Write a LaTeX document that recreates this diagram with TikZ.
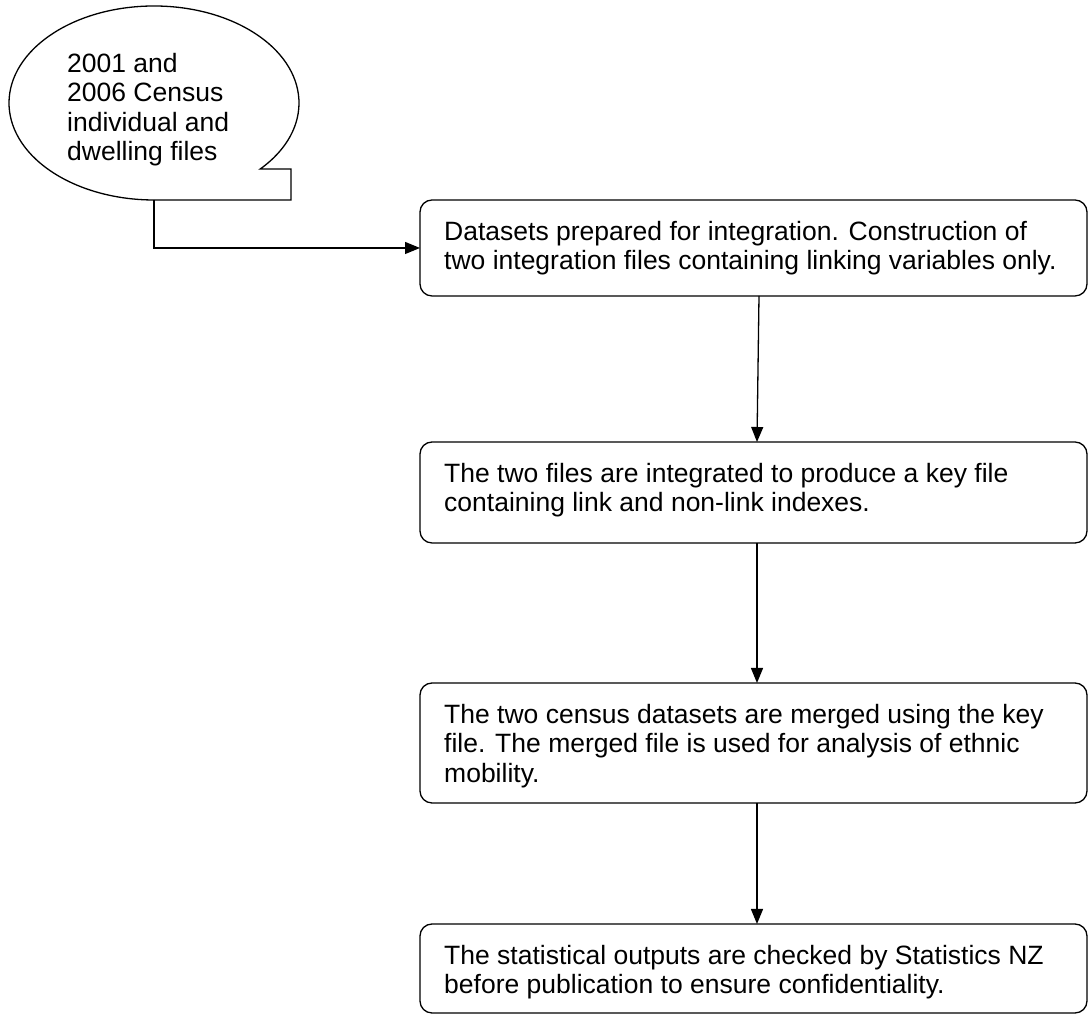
\documentclass[tikz,border=0pt]{standalone}
\usepackage{fontspec}
\setmainfont{Liberation Sans}
\usetikzlibrary{arrows.meta,calc}
\begin{document}
\begin{tikzpicture}[x=1pt,y=1pt,
  flowbox/.style={draw=black,line width=1.3pt,rounded corners=12pt,minimum width=667pt,inner sep=0pt,outer sep=0pt},
  flowtxt/.style={anchor=north west,inner sep=0pt,align=left,font=\fontsize{26.5}{29.5}\selectfont},
  flowarrow/.style={draw=black,line width=1.3pt,-{Triangle[length=15pt,width=12pt]}}]
\useasboundingbox (0,0) rectangle (1088,1016);
% callout
\draw[line width=1.3pt,line join=miter] (154+145*cos -42.9,913+97*sin -42.9)
  arc[start angle=-42.9,end angle=270,x radius=145,y radius=97]
  -- (291,816) -- (291,847) -- cycle;
\node[flowtxt] (src) at (67,963) {2001 and\\2006 Census\\individual and\\dwelling files};
\coordinate (srcb) at (154,816);
% boxes
\node[flowbox,minimum height=96pt] (b1) at (753.5,768) {};
\node[flowbox,minimum height=101pt] (b2) at (753.5,523.5) {};
\node[flowbox,minimum height=120pt] (b3) at (753.5,273) {};
\node[flowbox,minimum height=89pt] (b4) at (753.5,47.5) {};
\node[flowtxt] (t1) at ($(b1.north west)+(24,-21)$) {Datasets prepared for integration. Construction of\\two integration files containing linking variables only.};
\node[flowtxt] (t2) at ($(b2.north west)+(24,-21)$) {The two files are integrated to produce a key file\\containing link and non-link indexes.};
\node[flowtxt] (t3) at ($(b3.north west)+(24,-21)$) {The two census datasets are merged using the key\\file. The merged file is used for analysis of ethnic\\mobility.};
\node[flowtxt] (t4) at ($(b4.north west)+(24,-21)$) {The statistical outputs are checked by Statistics NZ\\before publication to ensure confidentiality.};
% connectors
\draw[flowarrow] (srcb) |- (b1.west);
\draw[flowarrow] ($(b1.south)+(5.5,0)$) -- ($(b2.north)+(3.5,0)$);
\draw[flowarrow] ($(b2.south)+(3.5,0)$) -- ($(b3.north)+(3.5,0)$);
\draw[flowarrow] ($(b3.south)+(3.5,0)$) -- ($(b4.north)+(3.5,0)$);
\end{tikzpicture}
\end{document}
